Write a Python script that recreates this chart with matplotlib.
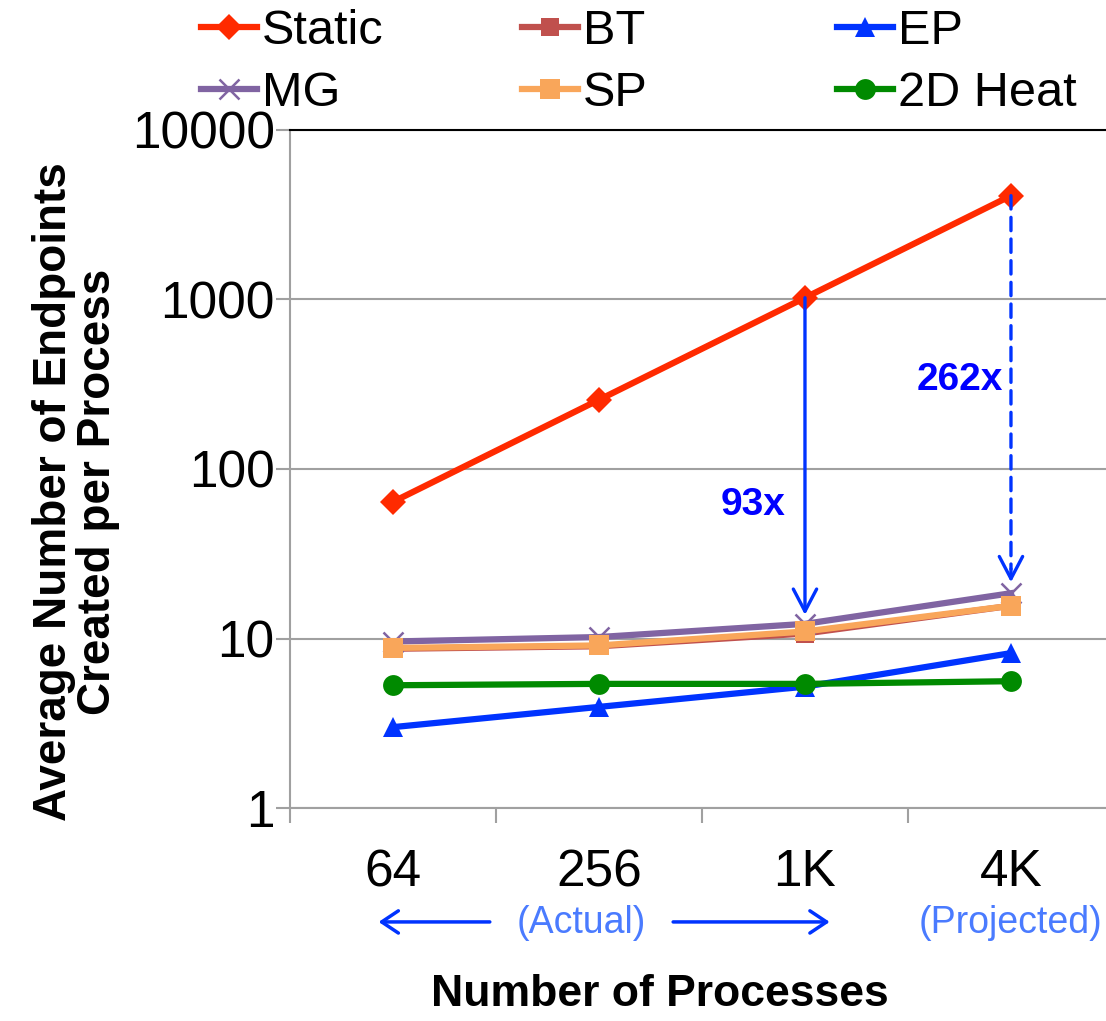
import numpy as np
import matplotlib.pyplot as plt
from matplotlib.lines import Line2D

plt.rcParams['font.family'] = ['Liberation Sans', 'DejaVu Sans']

# data
procs = ['64', '256', '1K', '4K']
static = [64, 256, 1024, 4096]
bt = [8.7, 9.0, 10.7, 15.6]
ep = [3.0, 3.95, 5.2, 8.2]
mg = [9.6, 10.2, 12.2, 18.5]
sp = [8.8, 9.1, 11.0, 15.6]
heat = [5.3, 5.4, 5.4, 5.6]
ratios = ['93x', '262x']

fig = plt.figure(figsize=(11.06, 10.21), dpi=100)
ax = fig.add_axes([0.2622, 0.2086, 0.7450, 0.6641])
x = np.arange(len(procs))

series = [
    ('Static', static, '#FF2A00', 'D', 13),
    ('BT', bt, '#C0504D', 's', 13),
    ('EP', ep, '#0033FF', '^', 15),
    ('MG', mg, '#8064A2', 'x', 14),
    ('SP', sp, '#F9A65A', 's', 15),
    ('2D Heat', heat, '#008A00', 'o', 15),
]
handles = {}
for name, vals, c, m, ms in series:
    mew = 1.8 if m == 'x' else 0
    h, = ax.plot(x, vals, color=c, marker=m, ms=ms, lw=4.5, mew=mew,
                 mec=c, zorder=3)
    handles[name] = h
handles['2D Heat'].set_zorder(4)

ax.set_yscale('log')
ax.set_ylim(1, 10000)
ax.set_xlim(-0.5, 3.5)
ax.set_yticks([1, 10, 100, 1000, 10000])
ax.set_yticklabels(['1', '10', '100', '1000', '10000'])
ax.yaxis.set_minor_locator(plt.NullLocator())
ax.set_xticks(np.arange(-0.5, 4, 1))
ax.set_xticklabels([])
ax.set_xticks(x, minor=True)
ax.set_xticklabels(procs, minor=True)
ax.tick_params(axis='x', which='minor', length=0, pad=29, labelsize=37)
ax.tick_params(axis='x', which='major', length=11, width=1.5, color='#A0A0A0')
ax.tick_params(axis='y', length=10, width=1.5, color='#A0A0A0', labelsize=37, pad=1)
ax.grid(axis='y', color='#A0A0A0', lw=1.5, zorder=0)
for s in ['left', 'bottom']:
    ax.spines[s].set_color('#A0A0A0')
    ax.spines[s].set_linewidth(1.5)
ax.spines['right'].set_visible(False)
ax.spines['top'].set_color('black')
ax.spines['top'].set_linewidth(1.5)

fig.text(0.069, 0.518, 'Average Number of Endpoints\nCreated per Process',
         rotation=90, fontsize=33, fontweight='bold', ha='center', va='center',
         multialignment='center', linespacing=1.0)
fig.text(0.597, 0.026, 'Number of Processes', fontsize=32, fontweight='bold',
         ha='center', va='center')

# reduction arrows
blue = '#0033FF'
head = '->,head_length=0.8,head_width=0.42'
ax.annotate('', xy=(2, mg[2] * 1.13), xytext=(2, static[2]),
            arrowprops=dict(arrowstyle=head, mutation_scale=20,
                            color=blue, lw=2.4, shrinkA=0, shrinkB=0), zorder=5)
tip = mg[3] * 1.16
ax.annotate('', xy=(3, tip * 1.2), xytext=(3, static[3]),
            arrowprops=dict(arrowstyle='-', color=blue, lw=2.4,
                            ls=(0, (4, 2.5)), shrinkA=0, shrinkB=0), zorder=5)
ax.annotate('', xy=(3, tip), xytext=(3, tip * 1.2),
            arrowprops=dict(arrowstyle=head, mutation_scale=20,
                            color=blue, lw=2.4, shrinkA=0, shrinkB=0), zorder=5)
ax.text(1.748, 61, ratios[0], color='#0000FF', fontsize=28, fontweight='bold',
        ha='center', va='center')
ax.text(2.75, 335, ratios[1], color='#0000FF', fontsize=28, fontweight='bold',
        ha='center', va='center')

# actual / projected labels below the axis
tr = ax.get_xaxis_transform()
light = '#4A7BFF'
ax.text(0.913, -0.170, '(Actual)', transform=tr, color=light, fontsize=27,
        ha='center', va='center')
ax.text(3.0, -0.170, '(Projected)', transform=tr, color=light, fontsize=27,
        ha='center', va='center')
small = '->,head_length=0.6,head_width=0.4'
ax.annotate('', xy=(-0.07, -0.168), xytext=(0.47, -0.168), xycoords=tr,
            textcoords=tr, annotation_clip=False,
            arrowprops=dict(arrowstyle=small, mutation_scale=20,
                            color=blue, lw=2.5, shrinkA=0, shrinkB=0))
ax.annotate('', xy=(2.12, -0.168), xytext=(1.36, -0.168), xycoords=tr,
            textcoords=tr, annotation_clip=False,
            arrowprops=dict(arrowstyle=small, mutation_scale=20,
                            color=blue, lw=2.5, shrinkA=0, shrinkB=0))

# legend: three columns placed like the original
col_x = [0.182, 0.472, 0.757]
cols = [['Static', 'MG'], ['BT', 'SP'], ['EP', '2D Heat']]
style = {name: (c, m, ms) for name, vals, c, m, ms in series}
for cx, names in zip(col_x, cols):
    hs = []
    for n in names:
        c, m, ms = style[n]
        mew = 1.8 if m == 'x' else 0
        hs.append(Line2D([], [], color=c, marker=m, ms=ms, lw=4.5, mew=mew, mec=c))
    fig.legend(hs, names, loc='upper left', bbox_to_anchor=(cx, 0.991),
               frameon=False, fontsize=35, handlelength=1.15, handletextpad=0.1,
               labelspacing=0.35, borderaxespad=0, borderpad=0)

fig.savefig('out.png', dpi=100)
